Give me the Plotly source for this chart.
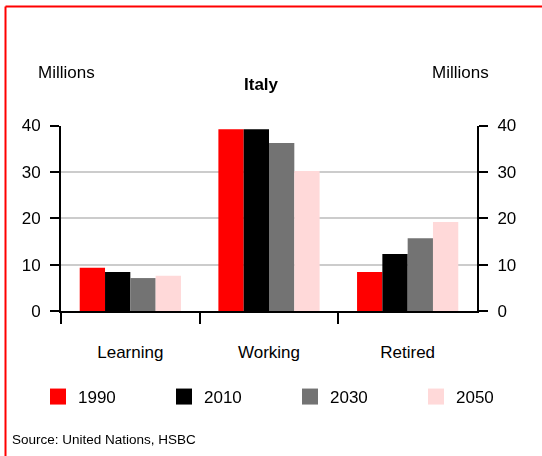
import plotly.graph_objects as go

W, H = 542, 456
categories = ["Learning", "Working", "Retired"]
years = ["1990", "2010", "2030", "2050"]
v1990 = [9.3, 39.2, 8.4]
v2010 = [8.4, 39.2, 12.3]
v2030 = [7.1, 36.2, 15.7]
v2050 = [7.6, 30.2, 19.2]
series = [v1990, v2010, v2030, v2050]
colors = ["#ff0000", "#000000", "#737373", "#ffd9d9"]
yticks = [0, 10, 20, 30, 40]

FONT = "Liberation Sans, Arial, sans-serif"

fig = go.Figure()
for name, vals, col in zip(years, series, colors):
    fig.add_trace(go.Bar(x=categories, y=vals, name=name, marker=dict(color=col, line=dict(width=0)),
                         showlegend=False, hoverinfo="x+y"))
# legend entries
for name, col in zip(years, colors):
    fig.add_trace(go.Scatter(x=[None], y=[None], name=name, mode="markers",
                             marker=dict(symbol="square", size=16, color=col), showlegend=True))
# invisible trace to activate right axis
fig.add_trace(go.Scatter(x=categories, y=v1990, yaxis="y2", mode="markers", opacity=0,
                         showlegend=False, hoverinfo="skip"))

x0, x1 = 61 / W, 477 / W
y0, y1 = 1 - 311 / H, 1 - 125.5 / H

fig.update_layout(
    width=W, height=H,
    margin=dict(l=0, r=0, t=0, b=0, pad=0, autoexpand=False),
    paper_bgcolor="white", plot_bgcolor="white",
    font=dict(family=FONT, size=17, color="black"),
    barmode="group", bargap=0.27, bargroupgap=0,
    xaxis=dict(domain=[x0, x1], showline=True, linecolor="black", linewidth=2,
               ticks="outside", tickson="boundaries", ticklen=11, tickwidth=2, tickcolor="black",
               ticklabelstandoff=25, tickfont=dict(size=17), showgrid=False, zeroline=False,
               automargin=False),
    yaxis=dict(domain=[y0, y1], range=[0, 40], tickvals=yticks, showline=True, linecolor="black",
               linewidth=2, ticks="outside", ticklen=9, tickwidth=2, tickcolor="black",
               showgrid=True, gridcolor="#cccccc", gridwidth=2, zeroline=False,
               tickfont=dict(size=17), ticklabelstandoff=6, automargin=False),
    yaxis2=dict(overlaying="y", side="right", range=[0, 40], tickvals=yticks, showline=True,
                linecolor="black", linewidth=2, ticks="outside", ticklen=9, tickwidth=2,
                tickcolor="black", showgrid=False, zeroline=False, tickfont=dict(size=17),
                ticklabelstandoff=6, automargin=False),
    legend=dict(orientation="h", x=38 / W, xanchor="left", y=1 - 397 / H, yanchor="middle",
                entrywidth=81, entrywidthmode="pixels", font=dict(size=17),
                bgcolor="rgba(0,0,0,0)", traceorder="normal"),
    showlegend=True,
)

ann = dict(xref="paper", yref="paper", showarrow=False, xanchor="center", yanchor="middle")
fig.add_annotation(text="Millions", x=66.5 / W, y=1 - 72 / H, font=dict(size=17), **ann)
fig.add_annotation(text="Millions", x=460 / W, y=1 - 72 / H, font=dict(size=17), **ann)
fig.add_annotation(text="<b>Italy</b>", x=261 / W, y=1 - 85 / H, font=dict(size=17), **ann)
fig.add_annotation(text="Source: United Nations, HSBC", xref="paper", yref="paper", showarrow=False,
                   x=10 / W, y=1 - 439 / H, xanchor="left", yanchor="middle", font=dict(size=13.5))

# red frame (top and left edges)
fig.add_shape(type="line", xref="paper", yref="paper", x0=5.5 / W, x1=1.05, y0=1 - 6.5 / H, y1=1 - 6.5 / H,
              line=dict(color="#ff0000", width=2))
fig.add_shape(type="line", xref="paper", yref="paper", x0=5.5 / W, x1=5.5 / W, y0=1 - 6.5 / H, y1=-0.05,
              line=dict(color="#ff0000", width=2))

fig.write_html("out.html", config={"displayModeBar": False},
               post_script="document.body.style.margin='0';")
